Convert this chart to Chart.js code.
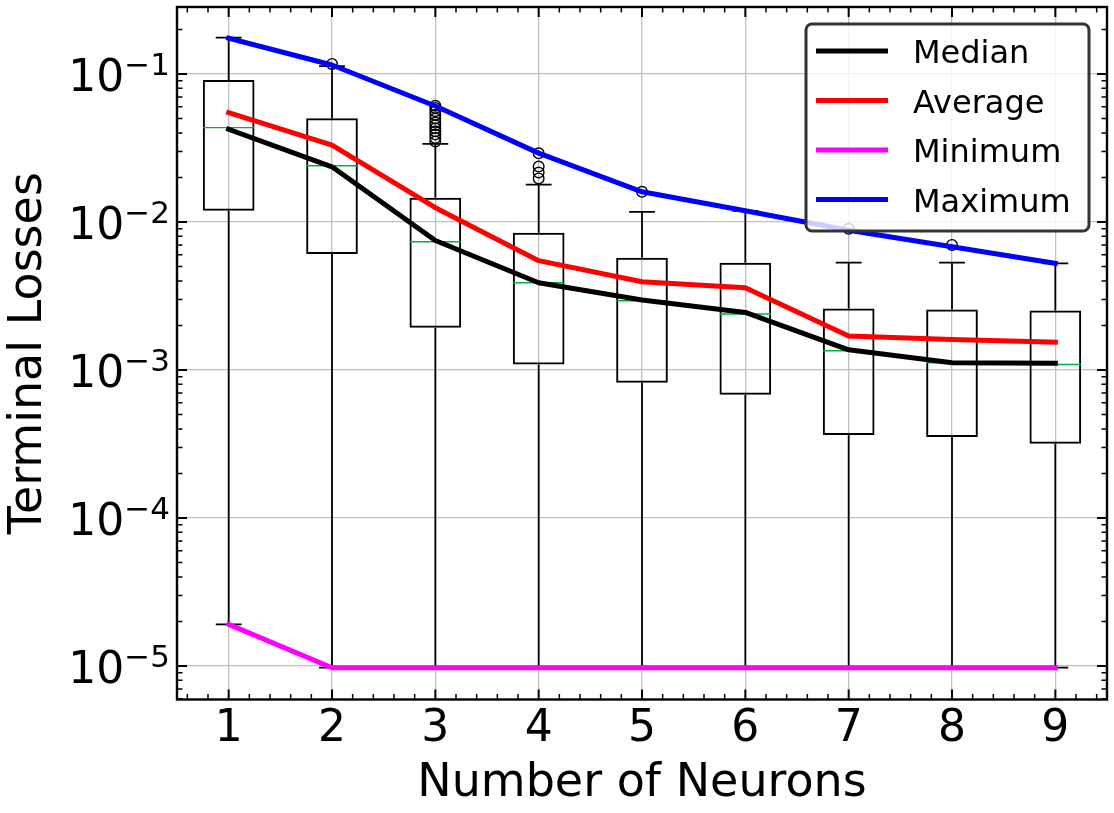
<!DOCTYPE html>
<html>
<head>
<meta charset="utf-8">
<title>Terminal Losses vs Number of Neurons</title>
<script src="https://cdn.jsdelivr.net/npm/chart.js@4.4.1/dist/chart.umd.min.js"></script>
<style>
  html, body { margin: 0; padding: 0; background: #fff; }
  #wrap { width: 1114px; height: 813px; position: relative; }
</style>
</head>
<body>
<div id="wrap"><canvas id="chart"></canvas></div>
<script>
(function () {
  // x positions: number of neurons
  const NEURONS = [1, 2, 3, 4, 5, 6, 7, 8, 9];

  // summary curves
  const MEDIAN  = [0.0423, 0.0236, 0.0075, 0.00389, 0.00297, 0.00245, 0.00137, 0.00112, 0.00111];
  const AVERAGE = [0.0548, 0.0331, 0.0125, 0.00548, 0.00395, 0.0036, 0.0017, 0.00161, 0.00154];
  const MINIMUM = [1.91e-5, 9.74e-6, 9.74e-6, 9.74e-6, 9.74e-6, 9.74e-6, 9.74e-6, 9.74e-6, 9.74e-6];
  const MAXIMUM = [0.1743, 0.115, 0.0608, 0.0292, 0.016, 0.0119, 0.0088, 0.0068, 0.00526];

  // box plot pieces
  const BOX_Q1     = [0.0119, 0.00608, 0.00193, 0.00109, 0.00082, 0.000681, 0.000364, 0.000353, 0.000318];
  const BOX_Q3     = [0.0911, 0.0502, 0.0146, 0.00847, 0.00574, 0.00531, 0.0026, 0.00256, 0.00252];
  const BOX_MED    = [0.0434, 0.024, 0.00736, 0.00389, 0.00294, 0.00239, 0.00135, 0.00112, 0.00109];
  const WHISKER_LO = [1.91e-5, 9.74e-6, 9.74e-6, 9.74e-6, 9.74e-6, 9.74e-6, 9.74e-6, 9.74e-6, 9.74e-6];
  const WHISKER_HI = [0.176, 0.113, 0.0337, 0.0179, 0.0117, 0.0119, 0.00531, 0.00531, 0.00526];
  const OUTLIERS = [
    [],
    [0.117],
    [0.035, 0.037, 0.039, 0.041, 0.043, 0.045, 0.047, 0.05, 0.053, 0.056, 0.059, 0.061],
    [0.0197, 0.0216, 0.0237, 0.0291],
    [0.016],
    [],
    [0.009],
    [0.007],
    []
  ];

  const Y_TICKS = [1e-5, 1e-4, 1e-3, 1e-2, 1e-1];
  const LEGEND = ["Median", "Average", "Minimum", "Maximum"];
  const X_TITLE = "Number of Neurons";
  const Y_TITLE = "Terminal Losses";

  const BOX_WIDTH = 0.5;
  const FONT = "'DejaVu Sans', 'Liberation Sans', sans-serif";

  Chart.defaults.font.family = FONT;
  Chart.defaults.color = "#000";

  // list of [x0, y0, x1, y1] -> line points, broken by a null between segments
  function segments(list) {
    var out = [];
    list.forEach(function (s) {
      out.push({ x: s[0], y: s[1] }, { x: s[2], y: s[3] }, { x: s[2], y: null });
    });
    return out;
  }

  function curve(values) {
    return NEURONS.map(function (x, i) { return { x: x, y: values[i] }; });
  }

  var whiskerSegs = [], capSegs = [], medianSegs = [], outlierPts = [];
  NEURONS.forEach(function (x, i) {
    var hc = BOX_WIDTH / 4, hb = BOX_WIDTH / 2;
    whiskerSegs.push([x, BOX_Q1[i], x, WHISKER_LO[i]], [x, BOX_Q3[i], x, WHISKER_HI[i]]);
    capSegs.push([x - hc, WHISKER_LO[i], x + hc, WHISKER_LO[i]], [x - hc, WHISKER_HI[i], x + hc, WHISKER_HI[i]]);
    medianSegs.push([x - hb, BOX_MED[i], x + hb, BOX_MED[i]]);
    OUTLIERS[i].forEach(function (v) { outlierPts.push({ x: x, y: v }); });
  });

  function lineSet(label, values, color) {
    return {
      type: "line", label: label, data: curve(values), inLegend: true,
      borderColor: color, backgroundColor: color, borderWidth: 5,
      pointRadius: 0, tension: 0, fill: false,
      borderCapStyle: "square", borderJoinStyle: "round"
    };
  }

  function segSet(label, data, color, width) {
    return {
      type: "line", label: label, data: data,
      borderColor: color, borderWidth: width, pointRadius: 0,
      spanGaps: false, tension: 0, fill: false, borderCapStyle: "butt"
    };
  }

  // first dataset ends up on top: summary curves over the boxes
  var datasets = [
    lineSet("Maximum", MAXIMUM, "#0000ff"),
    lineSet("Minimum", MINIMUM, "#ff00ff"),
    lineSet("Average", AVERAGE, "#ff0000"),
    lineSet("Median", MEDIAN, "#000000"),
    {
      type: "line", label: "outliers", data: outlierPts, showLine: false,
      pointRadius: 5.3, pointBorderWidth: 1.4, pointBorderColor: "#000",
      pointBackgroundColor: "rgba(0,0,0,0)"
    },
    segSet("box medians", segments(medianSegs), "#00b140", 1.4),
    segSet("caps", segments(capSegs), "#000", 1.8),
    segSet("whiskers", segments(whiskerSegs), "#000", 1.8),
    {
      type: "bar", label: "boxes",
      data: NEURONS.map(function (x, i) { return { x: x, y: [BOX_Q1[i], BOX_Q3[i]] }; }),
      backgroundColor: "rgba(0,0,0,0)", borderColor: "#000", borderWidth: 2,
      borderSkipped: false, categoryPercentage: 1, barPercentage: BOX_WIDTH
    }
  ];

  // frame, inward ticks on all sides, y labels with superscripts
  var axesDecor = {
    id: "axesDecor",
    afterDraw: function (chart) {
      var ctx = chart.ctx, a = chart.chartArea;
      var xs = chart.scales.x, ys = chart.scales.y;
      ctx.save();
      ctx.strokeStyle = "#000";

      function tickX(v, len, w) {
        var px = xs.getPixelForValue(v);
        ctx.lineWidth = w;
        ctx.beginPath();
        ctx.moveTo(px, a.bottom); ctx.lineTo(px, a.bottom - len);
        ctx.moveTo(px, a.top); ctx.lineTo(px, a.top + len);
        ctx.stroke();
      }
      function tickY(v, len, w) {
        var py = ys.getPixelForValue(v);
        ctx.lineWidth = w;
        ctx.beginPath();
        ctx.moveTo(a.left, py); ctx.lineTo(a.left + len, py);
        ctx.moveTo(a.right, py); ctx.lineTo(a.right - len, py);
        ctx.stroke();
      }

      for (var k = 3; k <= 47; k++) {
        if (k % 5 === 0) tickX(k / 5, 10, 2); else tickX(k / 5, 5.5, 1.5);
      }
      for (var e = -6; e <= -1; e++) {
        for (var m = 1; m <= 9; m++) {
          var v = m * Math.pow(10, e);
          if (v < ys.min || v > ys.max) continue;
          if (m === 1) tickY(v, 10, 2); else tickY(v, 5.5, 1.5);
        }
      }

      ctx.lineWidth = 2.4;
      ctx.strokeRect(a.left, a.top, a.right - a.left, a.bottom - a.top);

      // y tick labels 10^n
      ctx.fillStyle = "#000";
      ctx.textBaseline = "alphabetic";
      ctx.textAlign = "left";
      Y_TICKS.forEach(function (t) {
        var py = ys.getPixelForValue(t);
        var exp = Math.round(Math.log10(t));
        var sup = (exp < 0 ? "\u2212" : "") + Math.abs(exp);
        ctx.font = "44px " + FONT;
        var w1 = ctx.measureText("10").width;
        ctx.font = "31px " + FONT;
        var w2 = ctx.measureText(sup).width;
        var x0 = a.left - 7 - w1 - w2;
        ctx.font = "44px " + FONT;
        ctx.fillText("10", x0, py + 17);
        ctx.font = "31px " + FONT;
        ctx.fillText(sup, x0 + w1, py + 0.5);
      });
      ctx.restore();
    }
  };

  function roundRectPath(ctx, x, y, w, h, r) {
    ctx.beginPath();
    ctx.moveTo(x + r, y);
    ctx.arcTo(x + w, y, x + w, y + h, r);
    ctx.arcTo(x + w, y + h, x, y + h, r);
    ctx.arcTo(x, y + h, x, y, r);
    ctx.arcTo(x, y, x + w, y, r);
    ctx.closePath();
  }

  var legendBox = {
    id: "legendBox",
    afterDraw: function (chart) {
      var ctx = chart.ctx, a = chart.chartArea;
      var items = LEGEND.map(function (name) {
        return chart.data.datasets.filter(function (d) { return d.inLegend && d.label === name; })[0];
      });
      var w = 283, h = 207;
      var bx = a.right - 18 - w, by = a.top + 17;
      ctx.save();
      roundRectPath(ctx, bx, by, w, h, 6);
      ctx.fillStyle = "rgba(255,255,255,0.8)";
      ctx.fill();
      ctx.lineWidth = 3;
      ctx.strokeStyle = "#333";
      ctx.stroke();

      ctx.font = "32px " + FONT;
      ctx.textBaseline = "alphabetic";
      ctx.textAlign = "left";
      items.forEach(function (d, i) {
        var y = by + 27 + i * 49.5;
        ctx.strokeStyle = d.borderColor;
        ctx.lineWidth = 5;
        ctx.lineCap = "butt";
        ctx.beginPath();
        ctx.moveTo(bx + 10, y); ctx.lineTo(bx + 82, y);
        ctx.stroke();
        ctx.fillStyle = "#000";
        ctx.fillText(d.label, bx + 107, y + 12);
      });
      ctx.restore();
    }
  };

  new Chart(document.getElementById("chart"), {
    type: "line",
    data: { datasets: datasets },
    plugins: [axesDecor, legendBox],
    options: {
      responsive: true,
      maintainAspectRatio: false,
      animation: false,
      events: [],
      layout: { padding: { top: 7, right: 7, bottom: 0, left: 0 } },
      plugins: { legend: { display: false }, tooltip: { enabled: false } },
      scales: {
        x: {
          type: "linear", position: "bottom",
          min: 0.5, max: 9.5, bounds: "data", offset: false,
          grid: { offset: false, color: "#c0c0c0", lineWidth: 1.3, drawTicks: false },
          border: { display: false },
          ticks: {
            font: { size: 44, lineHeight: 1 }, color: "#000", padding: 8,
            maxRotation: 0, autoSkip: false,
            callback: function (v) { return String(v); }
          },
          afterBuildTicks: function (s) { s.ticks = NEURONS.map(function (v) { return { value: v }; }); },
          afterFit: function (s) { s.height = 113.5; },
          title: {
            display: true, text: X_TITLE, color: "#000",
            font: { size: 46, lineHeight: 1.2 }, padding: { top: 0, bottom: 1.5 }
          }
        },
        y: {
          type: "logarithmic", position: "left",
          min: 5.94e-6, max: 0.2836, bounds: "data",
          grid: { color: "#c0c0c0", lineWidth: 1.3, drawTicks: false },
          border: { display: false },
          ticks: { display: false },
          afterBuildTicks: function (s) { s.ticks = Y_TICKS.map(function (v) { return { value: v }; }); },
          afterFit: function (s) { s.width = 177; },
          title: {
            display: true, text: Y_TITLE, color: "#000",
            font: { size: 46, lineHeight: 1 }, padding: { top: 6, bottom: 0 }
          }
        }
      }
    }
  });
})();
</script>
</body>
</html>
